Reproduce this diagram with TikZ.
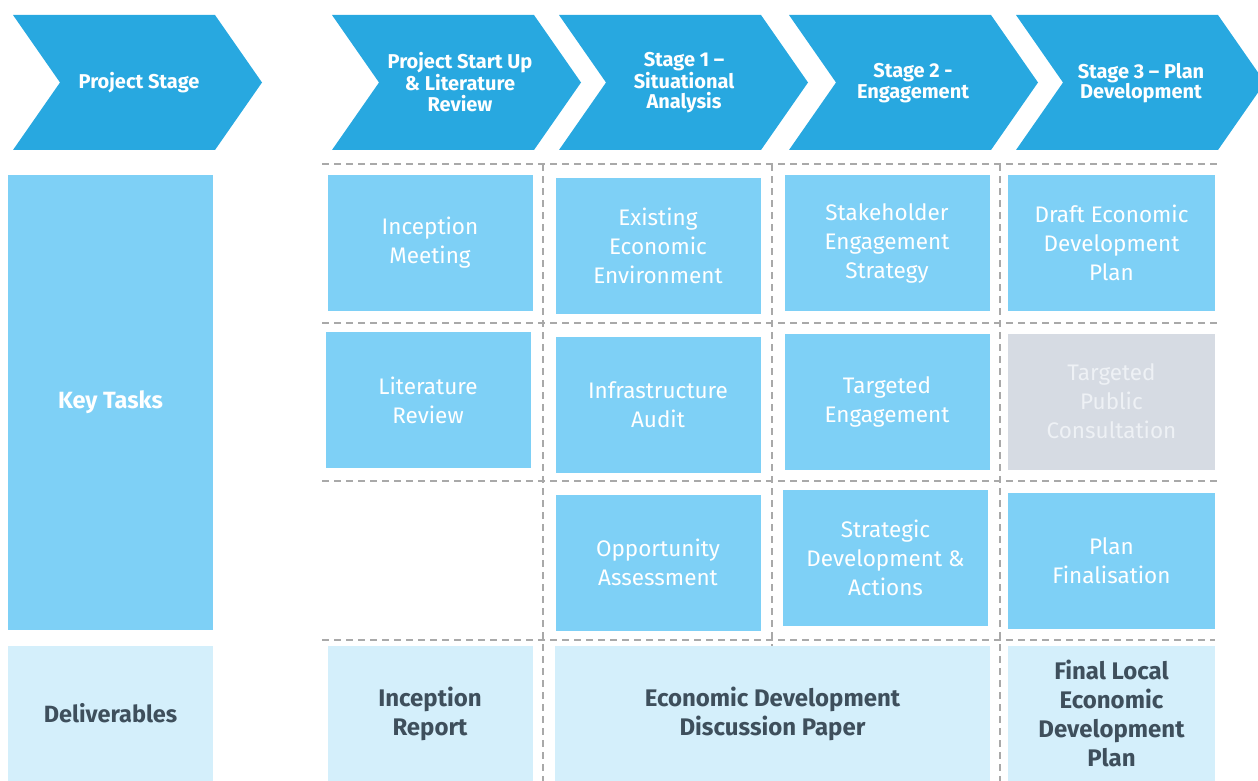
\documentclass[tikz,border=0pt]{standalone}
\usepackage{fontspec}
\setmainfont{Fira Sans}
\usetikzlibrary{positioning}

\definecolor{stageblue}{HTML}{28A8E0}
\definecolor{taskblue}{HTML}{7ED0F6}
\definecolor{delivblue}{HTML}{D4EFFB}
\definecolor{greybox}{HTML}{D6DBE3}
\definecolor{greytext}{HTML}{EEF1F5}
\definecolor{darktext}{HTML}{3E4F5C}
\definecolor{gridgrey}{HTML}{A9A9A9}

\tikzset{
  stagetext/.style={text=white, font=\fontsize{20}{20.5}\selectfont\bfseries, align=center, inner sep=0pt},
  cell/.style={rectangle, inner sep=0pt, align=center, minimum width=205pt, minimum height=136pt},
  task/.style={cell, fill=taskblue, text=white, font=\fontsize{22.5}{29}\selectfont},
  parked/.style={cell, fill=greybox, text=greytext, font=\fontsize{22.5}{29}\selectfont},
  deliv/.style={cell, fill=delivblue, text=darktext, font=\fontsize{24}{29}\selectfont\bfseries},
  gridline/.style={draw=gridgrey, line width=1.1pt, dash pattern=on 7pt off 5pt},
}

% chevron body starting at the given left x
\newcommand\chevronbody[1]{%
  \fill[stageblue] (#1,15) -- ++(202,0) -- ++(47,67.5) -- ++(-47,67.5) -- ++(-202,0) -- ++(47,-67.5) -- cycle;}

\begin{document}
\begin{tikzpicture}[x=1pt, y=-1pt]
\path[use as bounding box] (0,0) rectangle (1258,781);

% stage chevrons
\chevronbody{13}
\chevronbody{332}
\chevronbody{559}
\chevronbody{789}
\chevronbody{1016}
\node[stagetext] (hstage) at (139,83) {Project Stage};
\node[stagetext] (hstart) at (460,82) {Project Start Up\\\& Literature\\Review};
\node[stagetext] (hsit) at (684,83) {Stage 1 –\\Situational\\Analysis};
\node[stagetext] (heng) at (913,83) {Stage 2 -\\Engagement};
\node[stagetext] (hplan) at (1141,83) {Stage 3 – Plan\\Development};

% row labels
\node[cell, fill=taskblue, text=white, font=\fontsize{23.5}{29}\selectfont\bfseries,
      minimum height=455pt] (keytasks) at (110.5,402.5) {Key Tasks};
\node[deliv, minimum height=135pt, font=\fontsize{23.5}{29}\selectfont\bfseries] (deliverables) at (110.5,713.5) {Deliverables};

% dashed grid
\draw[gridline] (322,164) -- (1218,164);
\draw[gridline] (322,323) -- (1218,323);
\draw[gridline] (322,481) -- (1218,481);
\draw[gridline] (322,640) -- (1215,640);
\draw[gridline] (543,164) -- (543,781);
\draw[gridline] (772,164) -- (772,781);
\draw[gridline] (1000,164) -- (1000,781);

% key tasks
\node[task] (incmeet) at (430,243) {Inception\\Meeting};
\node[task] (existing) at (658,246) {Existing\\Economic\\Environment};
\node[task] (stake) at (887,243) {Stakeholder\\Engagement\\Strategy};
\node[task, minimum width=207pt] (draft) at (1111.5,243) {Draft Economic\\Development\\Plan};

\node[task] (litrev) at (428,400) {Literature\\Review};
\node[task] (infra) at (658,404.5) {Infrastructure\\Audit};
\node[task] (targeted) at (887,401.5) {Targeted\\Engagement};
\node[parked, minimum width=207pt] (publiccons) at (1111.5,401.5) {Targeted\\Public\\Consultation};

\node[task] (opport) at (658,562.5) {Opportunity\\Assessment};
\node[task] (strategic) at (885.5,558) {Strategic\\Development \&\\Actions};
\node[task, minimum width=207pt] (finalise) at (1111.5,561) {Plan\\Finalisation};

% deliverables
\node[deliv, minimum height=135pt] (increp) at (430,713.5) {Inception\\Report};
\node[deliv, minimum width=435pt, minimum height=135pt] (discussion) at (772.5,713.5) {Economic Development\\Discussion Paper};
\node[deliv, minimum width=207pt, minimum height=135pt] (finalplan) at (1111.5,713.5) {Final Local\\Economic\\Development\\Plan};
\end{tikzpicture}
\end{document}
